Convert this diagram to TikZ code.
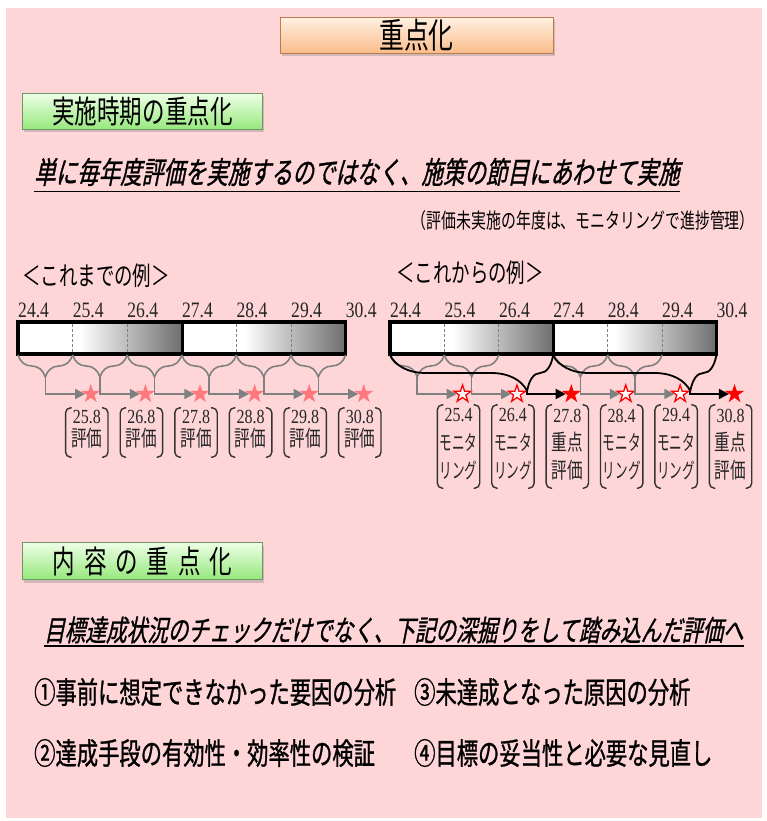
\documentclass[tikz,border=0pt]{standalone}
\usepackage{fontspec}
\setmainfont{Liberation Serif}
\newfontfamily\jp[FakeStretch=0.71]{Noto Sans CJK JP}
\newfontfamily\jpb[FakeStretch=0.71,FakeBold=1]{Noto Sans CJK JP}
\newfontfamily\jpit[FakeStretch=0.71,FakeSlant=0.2,FakeBold=1]{Noto Sans CJK JP}
\newfontfamily\jpn[FakeStretch=0.6]{Noto Sans CJK JP}
\newfontfamily\numf[FakeStretch=0.8]{Liberation Serif}
\usetikzlibrary{shapes.geometric,decorations.pathreplacing,shadows,arrows.meta}
\definecolor{bgpink}{RGB}{255,214,216}
\definecolor{orTop}{RGB}{255,240,226}
\definecolor{orBot}{RGB}{250,188,138}
\definecolor{orLine}{RGB}{185,125,80}
\definecolor{grTop}{RGB}{238,255,230}
\definecolor{grBot}{RGB}{150,232,125}
\definecolor{grLine}{RGB}{110,150,100}
\definecolor{barg}{RGB}{110,110,110}
\definecolor{linegray}{RGB}{128,128,128}
\definecolor{salmon}{RGB}{255,120,125}
\definecolor{starred}{RGB}{255,0,0}
\newcommand\brkts[1]{%
  \draw[brkline] ([xshift=6pt]#1.north west) -- (#1.north west) -- (#1.south west) -- ([xshift=6pt]#1.south west);
  \draw[brkline] ([xshift=-6pt]#1.north east) -- (#1.north east) -- (#1.south east) -- ([xshift=-6pt]#1.south east);}
\begin{document}
\begin{tikzpicture}[x=1pt,y=-1pt,
  titlebox/.style={draw=orLine, line width=0.8pt, top color=orTop, bottom color=orBot,
    drop shadow={shadow xshift=1.5pt, shadow yshift=-3pt, opacity=0.35},
    minimum width=273pt, minimum height=36pt, inner sep=0pt},
  greenbox/.style={draw=grLine, line width=0.8pt, top color=grTop, bottom color=grBot,
    drop shadow={shadow xshift=1.5pt, shadow yshift=-3pt, opacity=0.35},
    minimum width=240pt, minimum height=36pt, inner sep=0pt},
  txt/.style={inner sep=0pt, text=black},
  num/.style={inner sep=0pt, font=\numf\fontsize{22}{24}\selectfont, anchor=base west, text=black!85},
  barframe/.style={line width=3.5pt, draw=black},
  divd/.style={draw=gray, line width=0.8pt, dash pattern=on 3pt off 2pt},
  gbrace/.style={draw=linegray, line width=1.6pt, decorate, decoration={brace, mirror, amplitude=22pt}},
  bbrace/.style={draw=black, line width=1.8pt, decorate, decoration={brace, mirror, amplitude=36pt, aspect=0.84}},
  garr/.style={draw=linegray, line width=1.6pt, -{Triangle[length=10pt,width=10pt]}},
  barr/.style={draw=black, line width=1.8pt, -{Triangle[length=10pt,width=10pt]}},
  starbase/.style={star, star points=5, star point ratio=2.6, minimum size=20pt, inner sep=0pt},
  lstar/.style={starbase, fill=salmon},
  fstar/.style={starbase, fill=starred},
  hstar/.style={starbase, draw=starred, line width=1.3pt, fill=white, minimum size=18pt},
  brbox/.style={inner sep=0pt, minimum width=42pt},
  lt/.style={inner sep=0pt, text=black!85},
  brkline/.style={draw=black!80, line width=1.4pt, rounded corners=5pt}
]
\useasboundingbox (0,0) rectangle (766,821);
\fill[white] (0,0) rectangle (766,821);
\fill[bgpink] (6,8) rectangle (762,818);

% headings
\node[titlebox] (title) at (416.5,35.5) {\jp\fontsize{35}{36}\selectfont 重点化};
\node[greenbox] (g1) at (142.5,111.5) {\jp\fontsize{31.7}{32}\selectfont 実施時期の重点化};
\node[txt, anchor=base west] (u1) at (34,183.5) {\jpit\fontsize{30.3}{32}\selectfont 単に毎年度評価を実施するのではなく、施策の節目にあわせて実施};
\draw[line width=1.5pt] ([yshift=-8pt]u1.base west) -- ([yshift=-8pt]u1.base east);
\node[txt, anchor=base east] (sub) at (755,228) {\jp\fontsize{21}{22}\selectfont （評価未実施の年度は、モニタリングで進捗管理）};
\node[txt, anchor=base west] (ex1) at (22,285) {\jp\fontsize{26}{28}\selectfont ＜これまでの例＞};
\node[txt, anchor=base west] (ex2) at (396,282) {\jp\fontsize{26}{28}\selectfont ＜これからの例＞};

% ---------- left timeline ----------
\foreach \i/\t in {0/24.4,1/25.4,2/26.4,3/27.4,4/28.4,5/29.4,6/30.4}
  \node[num] (ln\i) at ({18+\i*54.6},317) {\t};
\fill[white] (18,322) rectangle (345.6,354);
\shade[left color=white,right color=barg] (80,322) rectangle (182,354);
\shade[left color=white,right color=barg] (244,322) rectangle (345.6,354);
\foreach \xx in {72.6,127.2,236.4,291}
  \draw[divd] (\xx,324) -- (\xx,352);
\draw[line width=3pt] (182.2,322) -- (182.2,354);
\draw[barframe] (18,322) rectangle (345.6,354);
\foreach \i in {0,...,5}{
  \draw[gbrace] ({18+\i*54.6},355) -- ({18+(\i+1)*54.6},355);
  \coordinate (lt\i) at ({18+(\i+0.5)*54.6},377);
  \node[lstar] (ls\i) at ({18+(\i+1+1/3)*54.6},394) {};
  \draw[garr] (lt\i) |- (ls\i);
}
\foreach \i/\d in {0/25.8,1/26.8,2/27.8,3/28.8,4/29.8,5/30.8}{
  \node[brbox, minimum height=49pt] (ll\i) at ({18+(\i+1+1/3)*54.6-4},432.5) {};
  \brkts{ll\i}
  \node[lt, font=\numf\fontsize{20}{22}\selectfont] (lla\i) at ({18+(\i+1+1/3)*54.6-4},416.5) {\d};
  \node[lt, font=\jp\fontsize{22}{22}\selectfont] (llb\i) at ({18+(\i+1+1/3)*54.6-4},438.5) {評価};
}

% ---------- right timeline ----------
\foreach \i/\t in {0/24.4,1/25.4,2/26.4,3/27.4,4/28.4,5/29.4,6/30.4}
  \node[num] (rn\i) at ({390+\i*54.4},317) {\t};
\fill[white] (390,322) rectangle (716.4,354);
\shade[left color=white,right color=barg] (452,322) rectangle (553.2,354);
\shade[left color=white,right color=barg] (615.2,322) rectangle (716.4,354);
\foreach \xx in {444.4,498.8,607.6,662}
  \draw[divd] (\xx,324) -- (\xx,352);
\draw[line width=3pt] (553.4,322) -- (553.4,354);
\draw[barframe] (390,322) rectangle (716.4,354);
\foreach \i in {0,1,3,4}{
  \draw[gbrace] ({390+\i*54.4},355) -- ({390+(\i+1)*54.4},355);
  \coordinate (rt\i) at ({390+(\i+0.5)*54.4},377);
}
\draw[bbrace] (390,355) -- (553.2,355);
\draw[bbrace] (553.2,355) -- (716.4,355);
\coordinate (bt1) at (527.1,391);
\coordinate (bt2) at (690.3,391);
\node[hstar] (rs0) at ({390+(1+1/3)*54.4},394) {};
\node[hstar] (rs1) at ({390+(2+1/3)*54.4},394) {};
\node[fstar] (rs2) at ({390+(3+1/3)*54.4},394) {};
\node[hstar] (rs3) at ({390+(4+1/3)*54.4},394) {};
\node[hstar] (rs4) at ({390+(5+1/3)*54.4},394) {};
\node[fstar] (rs5) at ({390+(6+1/3)*54.4},394) {};
\draw[garr] (rt0) |- (rs0);
\draw[garr] (rt1) |- (rs1);
\draw[garr] (rt3) |- (rs3);
\draw[garr] (rt4) |- (rs4);
\draw[barr] (bt1) |- (rs2);
\draw[barr] (bt2) |- (rs5);
\foreach \i/\d/\f/\s/\a/\b in {0/25.4/\jpn/21/モニタ/リング,1/26.4/\jpn/21/モニタ/リング,2/27.8/\jp/22/重点/評価,3/28.4/\jpn/21/モニタ/リング,4/29.4/\jpn/21/モニタ/リング,5/30.8/\jp/22/重点/評価}{
  \node[brbox, minimum height=83pt] (rl\i) at ({390+(\i+1+1/3)*54.4-4},446.5) {};
  \brkts{rl\i}
  \node[lt, font=\numf\fontsize{20}{22}\selectfont] (rla\i) at ({390+(\i+1+1/3)*54.4-4},415.5) {\d};
  \node[lt, font=\f\fontsize{\s}{22}\selectfont] (rlb\i) at ({390+(\i+1+1/3)*54.4-4},442.5) {\a};
  \node[lt, font=\f\fontsize{\s}{22}\selectfont] (rlc\i) at ({390+(\i+1+1/3)*54.4-4},470) {\b};
}

% ---------- lower section ----------
\node[greenbox, minimum height=37pt] (g2) at (142.5,561) {\jp\fontsize{31.7}{32}\selectfont 内\hspace{8.8pt}容\hspace{8.8pt}の\hspace{8.8pt}重\hspace{8.8pt}点\hspace{8.8pt}化};
\node[txt, anchor=base west] (u2) at (44,641) {\jpit\fontsize{29}{31}\selectfont 目標達成状況のチェックだけでなく、下記の深掘りをして踏み込んだ評価へ};
\draw[line width=1.5pt] ([yshift=-5pt]u2.base west) -- ([yshift=-5pt]u2.base east);
\node[txt, anchor=base west] (it1) at (34,703.4) {\jpb\fontsize{30}{32}\selectfont ①事前に想定できなかった要因の分析};
\node[txt, anchor=base west] (it3) at (414,703.4) {\jpb\fontsize{30}{32}\selectfont ③未達成となった原因の分析};
\node[txt, anchor=base west] (it2) at (34,764.4) {\jpb\fontsize{30}{32}\selectfont ②達成手段の有効性・効率性の検証};
\node[txt, anchor=base west] (it4) at (414,764.4) {\jpb\fontsize{30}{32}\selectfont ④目標の妥当性と必要な見直し};
\end{tikzpicture}
\end{document}
